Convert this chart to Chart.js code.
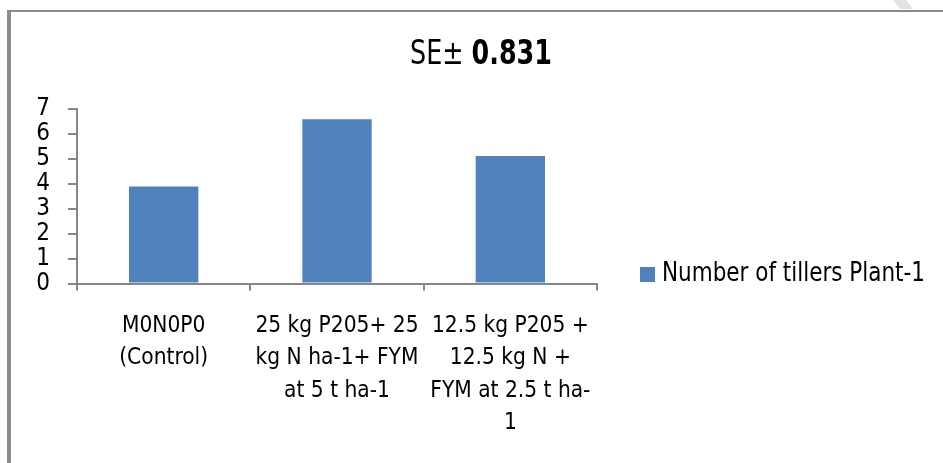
<!DOCTYPE html>
<html><head><meta charset="utf-8">
<style>html,body{margin:0;padding:0;background:#fff;overflow:hidden}canvas{display:block}</style>
<script src="https://cdn.jsdelivr.net/npm/chart.js@4/dist/chart.umd.min.js"></script>
</head><body><canvas id="c" width="943" height="463"></canvas>
<script>
const categories = [
  ["M0N0P0", "(Control)"],
  ["25 kg P205+ 25", "kg N ha-1+ FYM", "at 5 t ha-1"],
  ["12.5 kg P205 +", "12.5 kg N +", "FYM at 2.5 t ha-", "1"]
];
const seriesLabel = "Number of tillers Plant-1";
const tillers = [3.88, 6.58, 5.11];
const yTicks = [0, 1, 2, 3, 4, 5, 6, 7];
const titleNormal = "SE\u00b1 ";
const titleBold = "0.831";

const FONT = "'Liberation Sans Narrow', 'Arial Narrow', 'DejaVu Sans Condensed', sans-serif";
const BAR = '#4F81BD';
const AXIS = '#868686';

function drawSqueezed(c, parts, xLeft, baseline, targetW) {
  // parts: [{text, font}]
  let total = 0;
  const ws = parts.map(p => { c.font = p.font; const w = c.measureText(p.text).width; total += w; return w; });
  const k = targetW / total;
  c.save();
  c.translate(xLeft, baseline);
  c.scale(k, 1);
  let x = 0;
  parts.forEach((p, i) => { c.font = p.font; c.fillText(p.text, x, 0); x += ws[i]; });
  c.restore();
}

const decor = {
  id: 'decor',
  beforeDraw(chart) {
    const c = chart.ctx;
    c.save();
    c.fillStyle = '#fff';
    c.fillRect(0, 0, chart.width, chart.height);
    c.fillStyle = '#8c8c8c';
    c.fillRect(7, 10, 4, chart.height);
    c.fillStyle = '#8a8a8a';
    c.fillRect(7, 10, chart.width, 2);
    c.fillStyle = '#e2e2e2';
    c.beginPath();
    c.moveTo(893, 0); c.lineTo(906, 0); c.lineTo(913, 9); c.lineTo(900, 9); c.closePath();
    c.fill();
    c.restore();
  },
  afterDraw(chart) {
    const c = chart.ctx;
    c.save();
    c.fillStyle = '#000';
    c.textBaseline = 'alphabetic';
    c.textAlign = 'left';
    drawSqueezed(c, [
      { text: titleNormal, font: "33px " + FONT },
      { text: titleBold, font: "bold 33px " + FONT }
    ], 410, 64, 142);
    const ds = chart.data.datasets[0];
    c.fillStyle = ds.backgroundColor;
    c.fillRect(640, 267, 15, 15);
    c.fillStyle = '#000';
    drawSqueezed(c, [{ text: ds.label, font: "26px " + FONT }], 662, 281, 263);
    c.restore();
  }
};

new Chart(document.getElementById('c'), {
  type: 'bar',
  data: {
    labels: categories,
    datasets: [{
      label: seriesLabel,
      data: tillers,
      backgroundColor: BAR,
      borderWidth: 0,
      barPercentage: 0.4,
      categoryPercentage: 1.0
    }]
  },
  options: {
    responsive: false,
    animation: false,
    devicePixelRatio: 1,
    layout: { padding: { top: 108.7, right: 346, left: 0, bottom: 0 } },
    plugins: {
      legend: { display: false },
      title: { display: false },
      tooltip: { enabled: false }
    },
    scales: {
      x: {
        offset: true,
        grid: { display: true, offset: true, drawOnChartArea: false, drawTicks: true, tickLength: 7, color: AXIS, lineWidth: 2 },
        border: { display: true, color: AXIS, width: 2 },
        ticks: { color: '#000', font: { family: FONT, size: 22.5, lineHeight: 1.444 }, padding: 19, autoSkip: false, maxRotation: 0, minRotation: 0 },
        afterFit(s) { s.height = 179.5; }
      },
      y: {
        min: 0, max: 7,
        afterBuildTicks(s) { s.ticks = yTicks.map(v => ({ value: v })); },
        grid: { display: true, drawOnChartArea: false, drawTicks: true, tickLength: 9, color: AXIS, lineWidth: 2 },
        border: { display: true, color: AXIS, width: 2 },
        ticks: { color: '#000', font: { family: FONT, size: 24 }, padding: 18, autoSkip: false },
        afterFit(s) { s.width = 77; }
      }
    }
  },
  plugins: [decor]
});
</script></body></html>
